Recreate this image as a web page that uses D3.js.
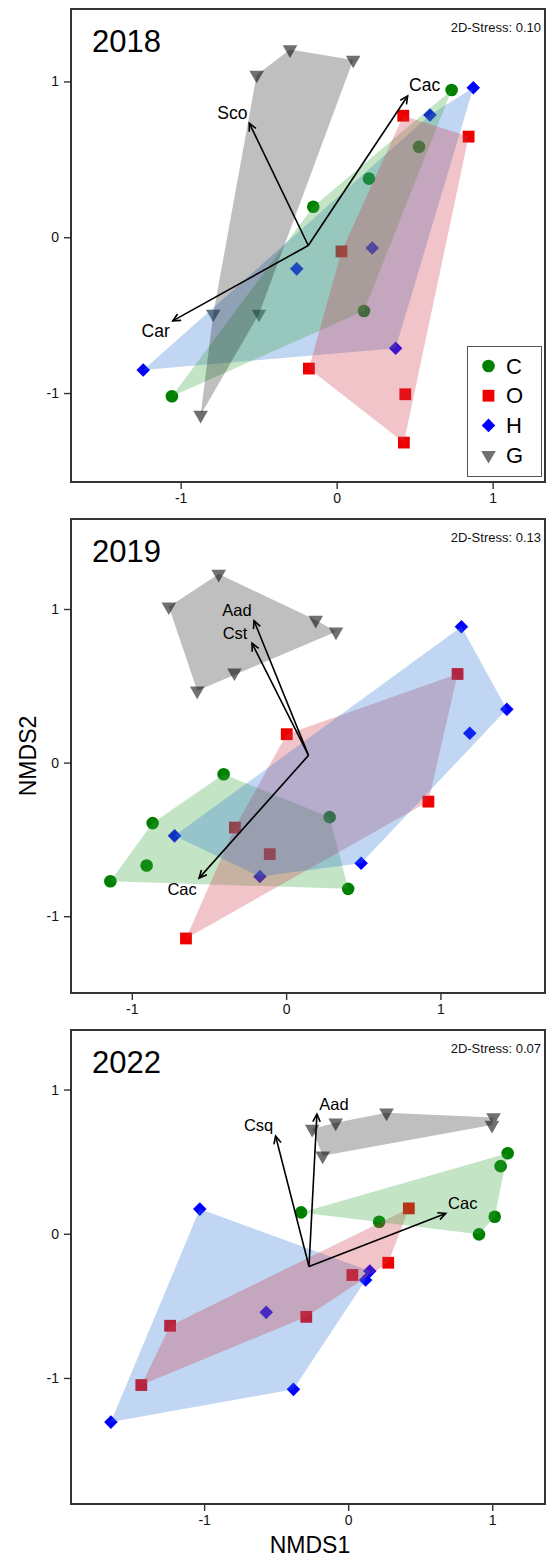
<!DOCTYPE html>
<html>
<head>
<meta charset="utf-8">
<script src="https://cdn.jsdelivr.net/npm/d3@7"></script>
<style>
  body { margin: 0; background: #fff; }
  svg { display: block; font-family: "Liberation Sans", Arial, Helvetica, sans-serif; }
</style>
</head>
<body>
<svg id="chart" width="547" height="1557"></svg>
<script>
// ---- data: NMDS site scores [NMDS1, NMDS2] per year and group ----
const groupNames = ["C", "O", "H", "G"];
const years = ["2018", "2019", "2022"];
const stressValues = ["0.10", "0.13", "0.07"];
const axisTicks = [-1, 0, 1];

const sites2018C = [[0.737, 0.945], [0.528, 0.580], [0.207, 0.376], [-0.150, 0.196], [0.175, -0.473], [-1.056, -1.021]];
const sites2018O = [[0.427, 0.780], [0.846, 0.646], [0.031, -0.091], [-0.178, -0.843], [0.440, -1.008], [0.431, -1.318]];
const sites2018H = [[0.876, 0.960], [0.598, 0.785], [0.228, -0.069], [-0.256, -0.203], [0.378, -0.712], [-1.240, -0.852]];
const sites2018G = [[-0.513, 1.042], [-0.299, 1.205], [0.106, 1.138], [-0.791, -0.492], [-0.498, -0.492], [-0.872, -1.141]];

const sites2019C = [[-0.405, -0.076], [-0.865, -0.394], [0.282, -0.355], [-0.904, -0.670], [-1.139, -0.772], [0.402, -0.822]];
const sites2019O = [[1.111, 0.577], [0.004, 0.185], [-0.332, -0.423], [-0.106, -0.596], [0.922, -0.254], [-0.649, -1.145]];
const sites2019H = [[1.136, 0.885], [1.430, 0.347], [1.190, 0.191], [-0.723, -0.477], [-0.170, -0.742], [0.486, -0.655]];
const sites2019G = [[-0.437, 1.228], [-0.760, 1.015], [0.192, 0.928], [0.323, 0.852], [-0.335, 0.586], [-0.576, 0.468]];

const sites2022C = [[1.107, 0.558], [1.058, 0.469], [-0.327, 0.148], [0.215, 0.083], [1.017, 0.118], [0.908, -0.004]];
const sites2022O = [[0.421, 0.176], [0.278, -0.201], [0.029, -0.286], [-0.291, -0.576], [-1.236, -0.638], [-1.436, -1.049]];
const sites2022H = [[-1.030, 0.171], [0.150, -0.259], [0.121, -0.321], [-0.569, -0.545], [-0.380, -1.079], [-1.647, -1.306]];
const sites2022G = [[-0.250, 0.726], [-0.087, 0.770], [0.266, 0.839], [1.009, 0.807], [0.998, 0.754], [-0.177, 0.541]];

// fitted species vectors: common origin and arrow tips
const envOrigin2018 = [-0.182, -0.053];
const envNames2018 = ["Sco", "Cac", "Car"];
const envTips2018 = [[-0.560, 0.732], [0.455, 0.907], [-1.051, -0.537]];

const envOrigin2019 = [0.145, 0.047];
const envNames2019 = ["Aad", "Cst", "Cac"];
const envTips2019 = [[-0.208, 0.924], [-0.221, 0.777], [-0.564, -0.752]];

const envOrigin2022 = [-0.272, -0.227];
const envNames2022 = ["Csq", "Aad", "Cac"];
const envTips2022 = [[-0.504, 0.678], [-0.217, 0.830], [0.677, 0.141]];

// ---- appearance ----
const pointColor = { C: "#008000", O: "#ee0000", H: "#0000ff", G: "#707070" };
const hullColor = { C: "#3aa541", O: "#cd3a48", H: "#3076d4", G: "#000000" };
const hullOpacity = { C: 0.3, O: 0.3, H: 0.3, G: 0.25 };

const symbolGen = {
  C: d3.symbol(d3.symbolCircle, Math.PI * 6.3 * 6.3),
  O: d3.symbol(d3.symbolSquare, 11.8 * 11.8),
  H: d3.symbol(d3.symbolSquare, 9.6 * 9.6),
  G: d3.symbol(d3.symbolTriangle, 92)
};
const symbolRotate = { C: 0, O: 0, H: 45, G: 180 };

const left = 71, right = 546;
const panels = [
  { year: years[0], stress: stressValues[0], top: 9, bottom: 482,
    xDomain: [-1.703, 1.342], yDomain: [-1.571, 1.465],
    sites: { C: sites2018C, O: sites2018O, H: sites2018H, G: sites2018G },
    hullOrder: ["H", "C", "O", "G"],
    env: { origin: envOrigin2018, names: envNames2018, tips: envTips2018, font: 17.5 },
    legend: true },
  { year: years[1], stress: stressValues[1], top: 519, bottom: 993,
    xDomain: [-1.394, 1.684], yDomain: [-1.500, 1.586],
    sites: { C: sites2019C, O: sites2019O, H: sites2019H, G: sites2019G },
    hullOrder: ["C", "O", "H", "G"],
    env: { origin: envOrigin2019, names: envNames2019, tips: envTips2019, font: 16.5 },
    legend: false },
  { year: years[2], stress: stressValues[2], top: 1030, bottom: 1504,
    xDomain: [-1.924, 1.373], yDomain: [-1.874, 1.413],
    sites: { C: sites2022C, O: sites2022O, H: sites2022H, G: sites2022G },
    hullOrder: ["H", "O", "C", "G"],
    env: { origin: envOrigin2022, names: envNames2022, tips: envTips2022, font: 16.5 },
    legend: false }
];

const svg = d3.select("#chart");

function drawSymbol(sel, grp) {
  sel.attr("d", symbolGen[grp]())
    .attr("fill", pointColor[grp]);
}

panels.forEach(p => {
  const x = d3.scaleLinear().domain(p.xDomain).range([left, right]);
  const y = d3.scaleLinear().domain(p.yDomain).range([p.bottom, p.top]);
  const g = svg.append("g");

  // site points (underneath the hulls)
  const pts = g.append("g");
  groupNames.forEach(grp => {
    pts.selectAll(null)
      .data(p.sites[grp])
      .join("path")
      .call(drawSymbol, grp)
      .attr("transform", d => `translate(${x(d[0])},${y(d[1])}) rotate(${symbolRotate[grp]})`);
  });

  // convex hulls per group
  const hulls = g.append("g");
  p.hullOrder.forEach(grp => {
    const hull = d3.polygonHull(p.sites[grp].map(d => [x(d[0]), y(d[1])]));
    hulls.append("path")
      .attr("d", "M" + hull.join("L") + "Z")
      .attr("fill", hullColor[grp])
      .attr("fill-opacity", hullOpacity[grp])
      .attr("stroke", "none");
  });

  // species vectors
  const arrows = g.append("g").attr("stroke", "#000").attr("stroke-width", 1.6).attr("fill", "none");
  const ox = x(p.env.origin[0]), oy = y(p.env.origin[1]);
  p.env.tips.forEach((t, i) => {
    const tx = x(t[0]), ty = y(t[1]);
    const ang = Math.atan2(ty - oy, tx - ox);
    const head = 8.5, spread = Math.PI / 7;
    const h1 = [tx - head * Math.cos(ang - spread), ty - head * Math.sin(ang - spread)];
    const h2 = [tx - head * Math.cos(ang + spread), ty - head * Math.sin(ang + spread)];
    arrows.append("path").attr("d", `M${ox},${oy}L${tx},${ty}`);
    arrows.append("path").attr("d", `M${h1[0]},${h1[1]}L${tx},${ty}L${h2[0]},${h2[1]}`);
    const dx = t[0] - p.env.origin[0], dy = t[1] - p.env.origin[1];
    g.append("text")
      .attr("x", tx + Math.sign(dx) * 17)
      .attr("y", ty - Math.sign(dy) * 10.5)
      .attr("text-anchor", "middle")
      .attr("dominant-baseline", "central")
      .attr("font-size", p.env.font)
      .attr("fill", "#000")
      .text(p.env.names[i]);
  });

  // frame
  g.append("rect")
    .attr("x", left).attr("y", p.top)
    .attr("width", right - left - 1).attr("height", p.bottom - p.top)
    .attr("fill", "none").attr("stroke", "#333").attr("stroke-width", 2);

  // axes
  const xAxis = g.append("g").attr("transform", `translate(0,${p.bottom})`)
    .call(d3.axisBottom(x).tickValues(axisTicks).tickFormat(d => String(d)).tickSize(7).tickPadding(4));
  const yAxis = g.append("g").attr("transform", `translate(${left},0)`)
    .call(d3.axisLeft(y).tickValues(axisTicks).tickFormat(d => String(d)).tickSize(7).tickPadding(5));
  [xAxis, yAxis].forEach(a => {
    a.select(".domain").remove();
    a.selectAll(".tick line").attr("stroke", "#333").attr("stroke-width", 1.4);
    a.selectAll(".tick text").attr("font-size", 14).attr("fill", "#111")
      .attr("font-family", "'Liberation Sans', Arial, sans-serif");
  });

  // year and stress
  g.append("text").attr("x", 92).attr("y", p.top + 43)
    .attr("font-size", 31).attr("fill", "#000").text(p.year);
  g.append("text").attr("x", right - 5).attr("y", p.top + 23)
    .attr("text-anchor", "end").attr("font-size", 13).attr("fill", "#111")
    .text("2D-Stress: " + p.stress);

  // legend
  if (p.legend) {
    const lw = 74, lh = 130;
    const lx = right - 5 - lw, ly = p.bottom - 6 - lh;
    const lg = g.append("g").attr("transform", `translate(${lx},${ly})`);
    lg.append("rect").attr("x", 0.5).attr("y", 0.5).attr("width", lw).attr("height", lh)
      .attr("fill", "#fff").attr("stroke", "#555").attr("stroke-width", 1);
    groupNames.forEach((grp, i) => {
      const cy = 20 + i * 29.7;
      lg.append("path").call(drawSymbol, grp)
        .attr("transform", `translate(21.5,${cy}) rotate(${symbolRotate[grp]})`);
      lg.append("text").attr("x", 39).attr("y", cy)
        .attr("dominant-baseline", "central")
        .attr("font-size", 22).attr("fill", "#000").text(grp);
    });
  }
});

// axis titles
svg.append("text")
  .attr("transform", "translate(35.5,756) rotate(-90)")
  .attr("text-anchor", "middle").attr("font-size", 23).attr("fill", "#000")
  .text("NMDS2");
svg.append("text")
  .attr("x", 310).attr("y", 1553)
  .attr("text-anchor", "middle").attr("font-size", 23).attr("fill", "#000")
  .text("NMDS1");
</script>
</body>
</html>
